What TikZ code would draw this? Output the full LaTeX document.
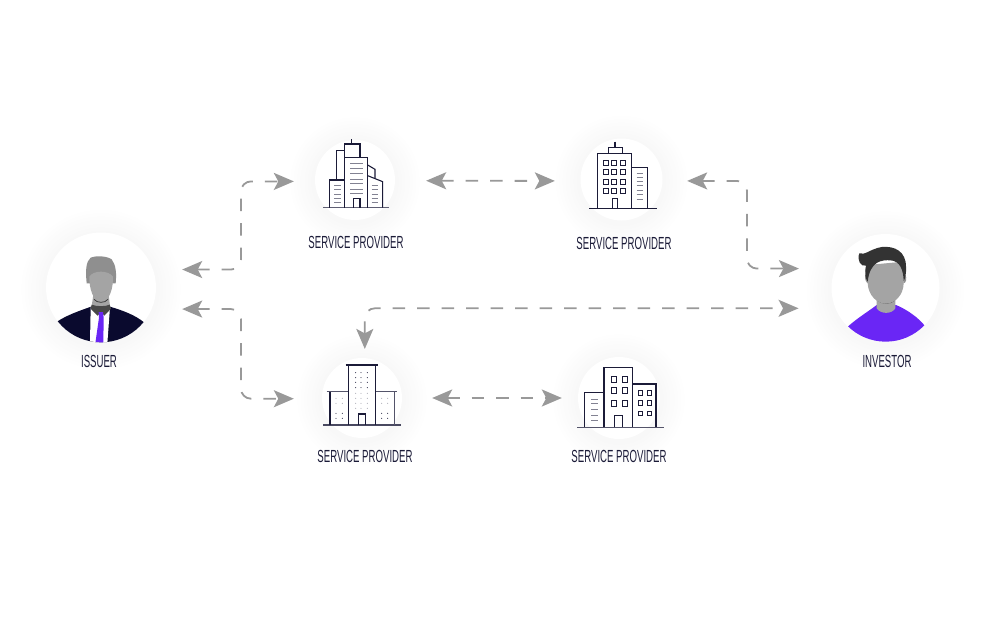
\documentclass[tikz,border=0pt]{standalone}
\usepackage{fontspec}
\usetikzlibrary{arrows.meta,calc}
\newfontfamily\labfont[FakeStretch=0.55]{Liberation Sans}
\definecolor{linkgray}{HTML}{999999}
\definecolor{ink}{HTML}{1B1B38}
\definecolor{navy}{HTML}{0A0A2E}
\definecolor{violet}{HTML}{6A26F5}
\definecolor{hairgray}{HTML}{8F8F8F}
\definecolor{skin}{HTML}{A4A4A4}
\definecolor{darkhair}{HTML}{333333}
\definecolor{collar}{HTML}{484848}
\tikzset{
  disc/.style={circle,fill=white,inner sep=0pt,minimum size=#1},
  caption/.style={font=\labfont\fontsize{17.5}{19}\selectfont,text=ink,inner sep=0pt,anchor=center},
  link/.style={draw=linkgray,line width=1.8pt,dash pattern=on 12.5pt off 12pt,rounded corners=10pt,
    {Stealth[length=20pt,width=17pt,inset=4.5pt,fill=linkgray]}-{Stealth[length=20pt,width=17pt,inset=4.5pt,fill=linkgray]}},
  wall/.style={draw=ink,line width=1.1pt,line join=miter},
  pane/.style={draw=ink,line width=.85pt},
  soft/.style={draw=ink!55,line width=.9pt},
  zoomed/.style={x=.33333pt,y=-.33333pt},
}
\newcommand{\halo}[3]{%
  \foreach \i in {24,...,1}{%
    \pgfmathsetmacro{\shadeval}{(24-\i)/24*3}%
    \fill[black!\shadeval!white] (#1,#2+2) circle[radius=#3+\i*1.1];}%
}
\begin{document}
\begin{tikzpicture}[x=1pt,y=-1pt]
\useasboundingbox (0,0) rectangle (1000,622);
\fill[white] (0,0) rectangle (1000,622);
\halo{101}{287.5}{55}
\halo{885.5}{288}{54}
\halo{355}{180}{40}
\halo{621.5}{179.5}{41}
\halo{362}{398}{40}
\halo{619}{398}{41}

\node[disc=110pt] (issuer) at (101,287.5) {};
\node[disc=108pt] (investor) at (885.5,288) {};
\node[disc=80pt] (spa) at (355,180) {};
\node[disc=82pt] (spb) at (621.5,179.5) {};
\node[disc=80pt] (spc) at (362,398) {};
\node[disc=82pt] (spd) at (619,398) {};

\node[caption] (capa) at (356,242) {SERVICE PROVIDER};
\node[caption] (capb) at (624,243) {SERVICE PROVIDER};
\node[caption] (capc) at (365,456) {SERVICE PROVIDER};
\node[caption] (capd) at (619,456) {SERVICE PROVIDER};
\node[caption] (capi) at (99,361) {ISSUER};
\node[caption] (capv) at (887,361) {INVESTOR};

% issuer figure
\begin{scope}[shift={(30,220)},zoomed]
  \clip (213,202) circle[radius=165];
  \fill[hairgray] (170,190) .. controls (166,150) and (168,125) .. (182,113) .. controls (200,106) and (230,108) .. (245,118) .. controls (258,135) and (260,160) .. (257,190) -- cycle;
  \fill[skin] (190,225) -- (236,225) -- (240,258) -- (213,285) -- (185,258) -- cycle;
  \fill[skin] (178,170) .. controls (190,150) and (235,150) .. (249,170) .. controls (250,205) and (238,245) .. (213,247) .. controls (190,245) and (177,205) .. (178,170) -- cycle;
  \draw[darkhair,line width=.7pt] (192,238) .. controls (202,250) and (224,250) .. (234,238);
  \fill[navy] (78,307) .. controls (110,285) and (150,272) .. (183,260) -- (240,260) .. controls (280,272) and (315,285) .. (342,307) -- (342,372) -- (78,372) -- cycle;
  \fill[white] (182,262) -- (240,262) -- (232,370) -- (180,370) -- cycle;
  \fill[collar] (185,254) .. controls (200,260) and (226,260) .. (239,254) -- (243,266) -- (223,287) -- (213,276) -- (203,287) -- (182,266) -- cycle;
  \fill[violet] (206,276) -- (219,276) -- (221,293) -- (220,370) -- (196,370) -- (207,293) -- cycle;
\end{scope}

% investor figure
\begin{scope}[shift={(820,225)},zoomed]
  \clip (197,188) circle[radius=162];
  \fill[violet] (80,308) .. controls (110,280) and (150,256) .. (170,240) -- (228,240) .. controls (262,254) and (295,278) .. (315,303) -- (315,355) -- (80,355) -- cycle;
  \fill[skin] (170,210) -- (226,210) -- (226,250) .. controls (215,268) and (182,268) .. (170,250) -- cycle;
  \draw[darkhair,line width=.7pt] (172,226) .. controls (185,238) and (212,238) .. (224,226);
  \fill[hairgray] (136,150) .. controls (133,160) and (138,175) .. (146,175) -- (146,150) -- cycle;
  \fill[hairgray] (256,150) .. controls (262,160) and (258,175) .. (250,175) -- (250,150) -- cycle;
  \fill[skin] (143,120) -- (251,110) -- (251,175) .. controls (250,210) and (225,236) .. (197,236) .. controls (170,236) and (145,210) .. (143,175) -- cycle;
  \fill[darkhair] (118,85) .. controls (135,92) and (150,72) .. (185,66) .. controls (225,62) and (258,80) .. (258,125) .. controls (259,145) and (256,160) .. (251,168) .. controls (250,135) and (240,108) .. (212,106) .. controls (185,104) and (150,108) .. (143,170) .. controls (136,160) and (133,145) .. (138,122) .. controls (122,126) and (110,105) .. (118,85) -- cycle;
\end{scope}

% building a
\begin{scope}[shift={(300,130)},zoomed]
  \draw[wall,draw=ink!70] (70,233) -- (268,233);
  \draw[wall] (133,233) -- (133,82) -- (203,82) -- (203,233);
  \draw[wall] (133,82) -- (133,42) -- (180,42) -- (180,82);
  \draw[wall] (155,27) -- (155,42);
  \draw[wall] (110,150) -- (110,62) -- (133,62);
  \draw[wall] (133,150) -- (88,150) -- (88,233);
  \draw[wall] (203,137) -- (248,155) -- (248,233);
  \draw[wall] (203,105) -- (225,118) -- (225,145);
  \draw[wall] (160,233) -- (160,205) -- (180,205) -- (180,233);
  \foreach \y in {100,115,130,147,160,177,190} \draw[soft] (150,\y) -- (188,\y);
  \foreach \y in {165,178,192,205,217} {\draw[soft] (103,\y) -- (122,\y); \draw[soft] (215,\y) -- (235,\y);}
\end{scope}

% building b
\begin{scope}[shift={(570,130)},zoomed]
  \draw[wall] (57,235) -- (260,235);
  \draw[wall] (83,235) -- (83,70) -- (185,70) -- (185,235);
  \draw[wall] (115,70) -- (115,52) -- (158,52) -- (158,70);
  \draw[wall] (135,35) -- (135,52);
  \draw[wall] (185,112) -- (232,112) -- (232,235);
  \draw[wall] (127,235) -- (127,205) -- (143,205) -- (143,235);
  \foreach \x in {100,125,150} \foreach \y in {90,118,148,175} \draw[pane] (\x,\y) rectangle ++(15,15);
  \foreach \y in {130,142,155,167,180,193,207} \draw[soft] (200,\y) -- (218,\y);
\end{scope}

% building c
\begin{scope}[shift={(310,350)},zoomed]
  \draw[wall,draw=ink!80] (40,225) -- (273,225);
  \draw[wall] (115,225) -- (115,45) (197,45) -- (197,225);
  \draw[wall,line width=1.4pt] (107,45) -- (205,45);
  \draw[wall] (60,225) -- (60,125);
  \draw[wall,line width=1.4pt,draw=ink!75] (50,125) -- (115,125) (197,125) -- (262,125);
  \draw[wall,line width=1.5pt,draw=ink!75] (253,125) -- (253,225);
  \draw[wall] (145,225) -- (145,192) -- (167,192) -- (167,225);
  \foreach \x in {137,153,172} \foreach \y in {68,83,97,113} \fill[ink] (\x,\y) circle[radius=1.6];
  \foreach \x in {137,153,172} \foreach \y in {130,145,160,175} \fill[ink!40] (\x,\y) circle[radius=1.6];
  \foreach \x in {78,97,215,233} \foreach \y in {145,160} \fill[ink!40] (\x,\y) circle[radius=1.6];
  \foreach \x in {78,97,215,233} \foreach \y in {190,205} \fill[ink] (\x,\y) circle[radius=1.6];
\end{scope}

% building d
\begin{scope}[shift={(565,350)},zoomed]
  \draw[wall,draw=ink!75,line width=1.3pt] (37,232) -- (297,232);
  \draw[wall] (117,232) -- (117,53) -- (203,53) -- (203,232);
  \draw[wall] (117,127) -- (58,127) -- (58,232);
  \draw[wall] (203,102) -- (273,102) -- (273,232);
  \draw[wall] (148,232) -- (148,197) -- (172,197) -- (172,232);
  \foreach \x in {138,172} \foreach \y in {80,113,152} \draw[pane] (\x,\y) rectangle ++(15,17);
  \foreach \x in {220,247} \foreach \y in {122,152,183} \draw[pane] (\x,\y) rectangle ++(12.5,13.5);
  \foreach \y in {147,160,178,195,212} \draw[soft] (78,\y) -- (100,\y);
\end{scope}

% connectors
\coordinate (busleft) at (241,0);
\coordinate (busright) at (747,0);
\draw[link,shorten <=29pt,shorten >=21pt] (issuer.19) -- (issuer.19 -| busleft) |- (spa.182.9);
\draw[link,shorten <=30.4pt,shorten >=28pt] (issuer.-23) -- (issuer.-23 -| busleft) |- (spc.181.4);
\draw[link,shorten <=31pt,shorten >=25.5pt] (spa.-1.4) -- (spb.182.1);
\draw[link,shorten <=30pt,shorten >=16pt] (spc.east) -- (spd.west);
\draw[link,shorten <=24.5pt,shorten >=36pt] (spb.-2.1) -- (spb.-2.1 -| busright) |- (investor.159.4);
\draw[link,shorten <=9pt,shorten >=36.7pt] (spc.86) |- (investor.202.9);
\end{tikzpicture}
\end{document}
